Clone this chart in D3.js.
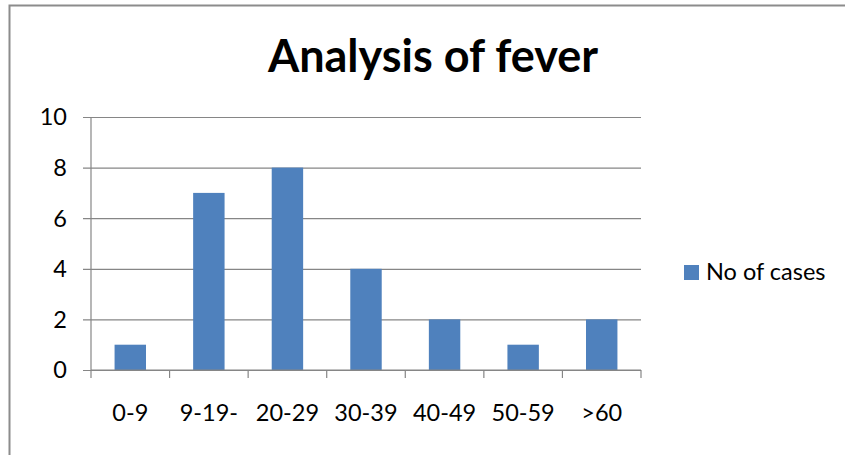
<!DOCTYPE html>
<html>
<head>
<meta charset="utf-8">
<script src="https://cdn.jsdelivr.net/npm/d3@7"></script>
<style>
  body { margin: 0; background: #fff; }
  svg { display: block; font-family: Lato, "Open Sans", sans-serif; }
</style>
</head>
<body>
<svg></svg>
<script>
const width = 845;
const height = 455;

// data
const ageGroups = ["0-9", "9-19-", "20-29", "30-39", "40-49", "50-59", ">60"];
const cases = [1, 7, 8, 4, 2, 1, 2];
const yTicks = [0, 2, 4, 6, 8, 10];
const seriesName = "No of cases";
const chartTitle = "Analysis of fever";

const plot = { left: 91, right: 641, top: 117, bottom: 370 };
const gridColor = "#868686";
const barColor = "#4f81bd";
const labelSize = "23.5px";

let svg = d3.select("svg")
    .attr("width", width)
    .attr("height", height);

// outer frame of the chart (only left and top edges are visible)
svg.append("rect")
    .attr("x", 9.5)
    .attr("y", 5.5)
    .attr("width", width + 20)
    .attr("height", height + 20)
    .attr("fill", "none")
    .attr("stroke", "#8c8c8c")
    .attr("stroke-width", 2);

// title
svg.append("text")
    .attr("x", 433)
    .attr("y", 72)
    .attr("text-anchor", "middle")
    .style("font-size", "45px")
    .style("font-weight", "bold")
    .text(chartTitle);

// scales
let scaleX = d3.scaleBand()
    .domain(ageGroups)
    .range([plot.left, plot.right]);

let scaleY = d3.scaleLinear()
    .domain([0, 10])
    .range([plot.bottom, plot.top]);

// horizontal gridlines with little outer ticks
let axisY = d3.axisLeft(scaleY)
    .tickValues(yTicks)
    .tickSize(-(plot.right - plot.left) - 8)
    .tickPadding(0)
    .tickFormat("");

let gY = svg.append("g")
    .attr("transform", `translate(${plot.right}, 0)`)
    .call(axisY);
gY.select(".domain").remove();
gY.selectAll(".tick line")
    .attr("x1", 0)
    .attr("x2", -(plot.right - plot.left) - 8)
    .attr("stroke", gridColor)
    .attr("stroke-width", 1.2);

// y tick labels
svg.append("g")
    .selectAll("text")
    .data(yTicks)
    .enter()
    .append("text")
    .attr("x", 67)
    .attr("y", d => scaleY(d))
    .attr("dy", "0.36em")
    .attr("text-anchor", "end")
    .style("font-size", labelSize)
    .text(d => d);

// vertical axis line
svg.append("line")
    .attr("x1", plot.left)
    .attr("x2", plot.left)
    .attr("y1", plot.top)
    .attr("y2", plot.bottom)
    .attr("stroke", gridColor)
    .attr("stroke-width", 1.2);

// bars
const barW = scaleX.bandwidth() * 0.4;
svg.selectAll(".bar")
    .data(cases)
    .enter()
    .append("rect")
    .attr("class", "bar")
    .attr("x", (d, i) => scaleX(ageGroups[i]) + (scaleX.bandwidth() - barW) / 2)
    .attr("y", d => scaleY(d))
    .attr("width", barW)
    .attr("height", d => plot.bottom - scaleY(d))
    .attr("fill", barColor);

// x axis: ticks between categories
const boundaries = ageGroups.map(c => scaleX(c)).concat([plot.right]);
svg.append("g")
    .selectAll("line")
    .data(boundaries)
    .enter()
    .append("line")
    .attr("x1", d => d)
    .attr("x2", d => d)
    .attr("y1", plot.bottom)
    .attr("y2", plot.bottom + 8)
    .attr("stroke", gridColor)
    .attr("stroke-width", 1.2);

svg.append("line")
    .attr("x1", plot.left)
    .attr("x2", plot.right)
    .attr("y1", plot.bottom)
    .attr("y2", plot.bottom)
    .attr("stroke", gridColor)
    .attr("stroke-width", 1.2);

svg.append("g")
    .selectAll("text")
    .data(ageGroups)
    .enter()
    .append("text")
    .attr("x", d => scaleX(d) + scaleX.bandwidth() / 2)
    .attr("y", 421)
    .attr("text-anchor", "middle")
    .style("font-size", labelSize)
    .text(d => d);

// legend
svg.append("rect")
    .attr("x", 684)
    .attr("y", 265)
    .attr("width", 15)
    .attr("height", 15)
    .attr("fill", barColor);

svg.append("text")
    .attr("x", 706)
    .attr("y", 272)
    .attr("dy", "0.36em")
    .style("font-size", labelSize)
    .text(seriesName);
</script>
</body>
</html>
